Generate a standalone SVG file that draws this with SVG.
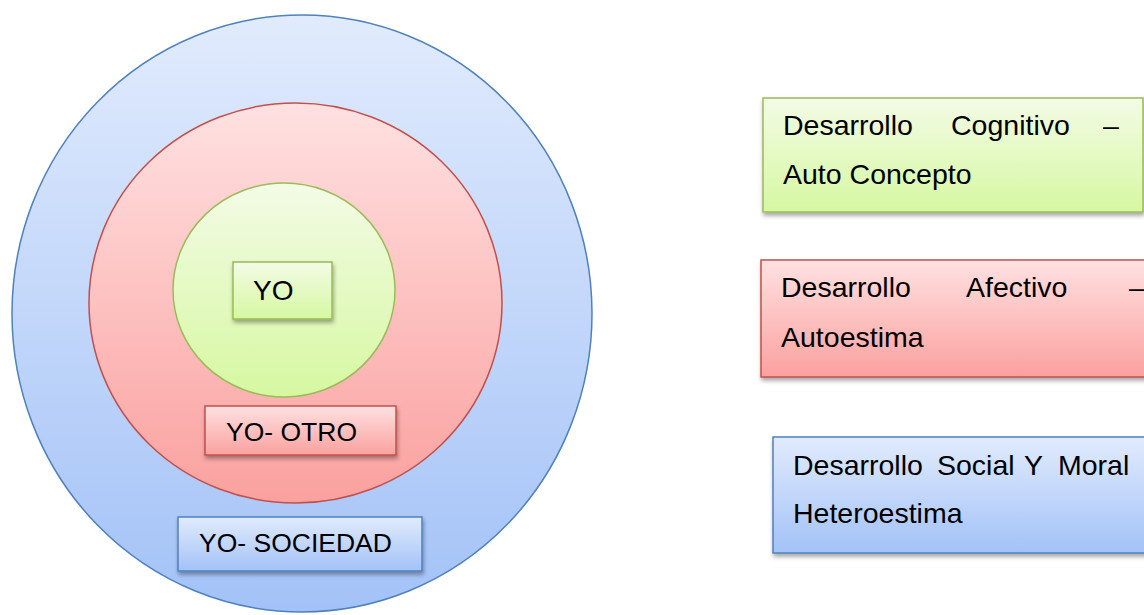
<svg xmlns="http://www.w3.org/2000/svg" width="1144" height="615" viewBox="0 0 1144 615">
<defs>
<linearGradient id="gBlue" x1="0" y1="0" x2="0" y2="1"><stop offset="0" stop-color="#e1ebfd"/><stop offset="1" stop-color="#a3c2f7"/></linearGradient>
<linearGradient id="gRed" x1="0" y1="0" x2="0" y2="1"><stop offset="0" stop-color="#ffe1e1"/><stop offset="1" stop-color="#faa19f"/></linearGradient>
<linearGradient id="gGreen" x1="0" y1="0" x2="0" y2="1"><stop offset="0" stop-color="#f3fbe6"/><stop offset="1" stop-color="#d6f8a1"/></linearGradient>
<filter id="sh" x="-10%" y="-20%" width="130%" height="160%"><feDropShadow dx="1" dy="3" stdDeviation="2" flood-color="#000" flood-opacity="0.35"/></filter>
<style>
.t{font-family:"Liberation Sans",Arial,sans-serif;font-size:26.5px;fill:#000}
.r{font-family:"Liberation Sans",Arial,sans-serif;font-size:28.5px;fill:#000}
.bS{stroke:#4f81bd;stroke-width:1.5}
.rS{stroke:#c0504d;stroke-width:1.5}
.gS{stroke:#9bbb59;stroke-width:1.5}
</style>
</defs>
<g id="outer"><ellipse cx="302" cy="313.5" rx="290" ry="298.5" fill="url(#gBlue)" class="bS"/></g>
<g id="middle"><ellipse cx="295.5" cy="303" rx="206.5" ry="200" fill="url(#gRed)" class="rS"/></g>
<g id="inner"><ellipse cx="284" cy="290" rx="111" ry="107" fill="url(#gGreen)" class="gS"/></g>
<g id="yo"><rect x="233" y="262" width="99" height="57" fill="url(#gGreen)" class="gS" filter="url(#sh)"/><text class="t" x="253" y="300" style="font-size:28px">YO</text></g>
<g id="yo-otro"><rect x="205" y="406" width="191" height="49" fill="url(#gRed)" class="rS" filter="url(#sh)"/><text class="t" x="226" y="441">YO- OTRO</text></g>
<g id="yo-sociedad"><rect x="178" y="517" width="244" height="54" fill="url(#gBlue)" class="bS" filter="url(#sh)"/><text class="t" x="199" y="552">YO- SOCIEDAD</text></g>
<g id="cognitivo"><rect x="763" y="98" width="380" height="114" fill="url(#gGreen)" class="gS" filter="url(#sh)"/>
<text class="r" y="135"><tspan x="783">Desarrollo</tspan><tspan x="951">Cognitivo</tspan><tspan x="1103">–</tspan></text>
<text class="r" x="783" y="184">Auto Concepto</text></g>
<g id="afectivo"><rect x="761" y="260" width="400" height="117" fill="url(#gRed)" class="rS" filter="url(#sh)"/>
<text class="r" y="297"><tspan x="781">Desarrollo</tspan><tspan x="966">Afectivo</tspan><tspan x="1129">–</tspan></text>
<text class="r" x="781" y="347">Autoestima</text></g>
<g id="social"><rect x="773" y="437" width="400" height="116" fill="url(#gBlue)" class="bS" filter="url(#sh)"/>
<text class="r" y="475"><tspan x="793">Desarrollo</tspan><tspan x="937">Social</tspan><tspan x="1024">Y</tspan><tspan x="1058">Moral</tspan></text>
<text class="r" x="793" y="523">Heteroestima</text></g>
<g id="connectors"/>
</svg>
